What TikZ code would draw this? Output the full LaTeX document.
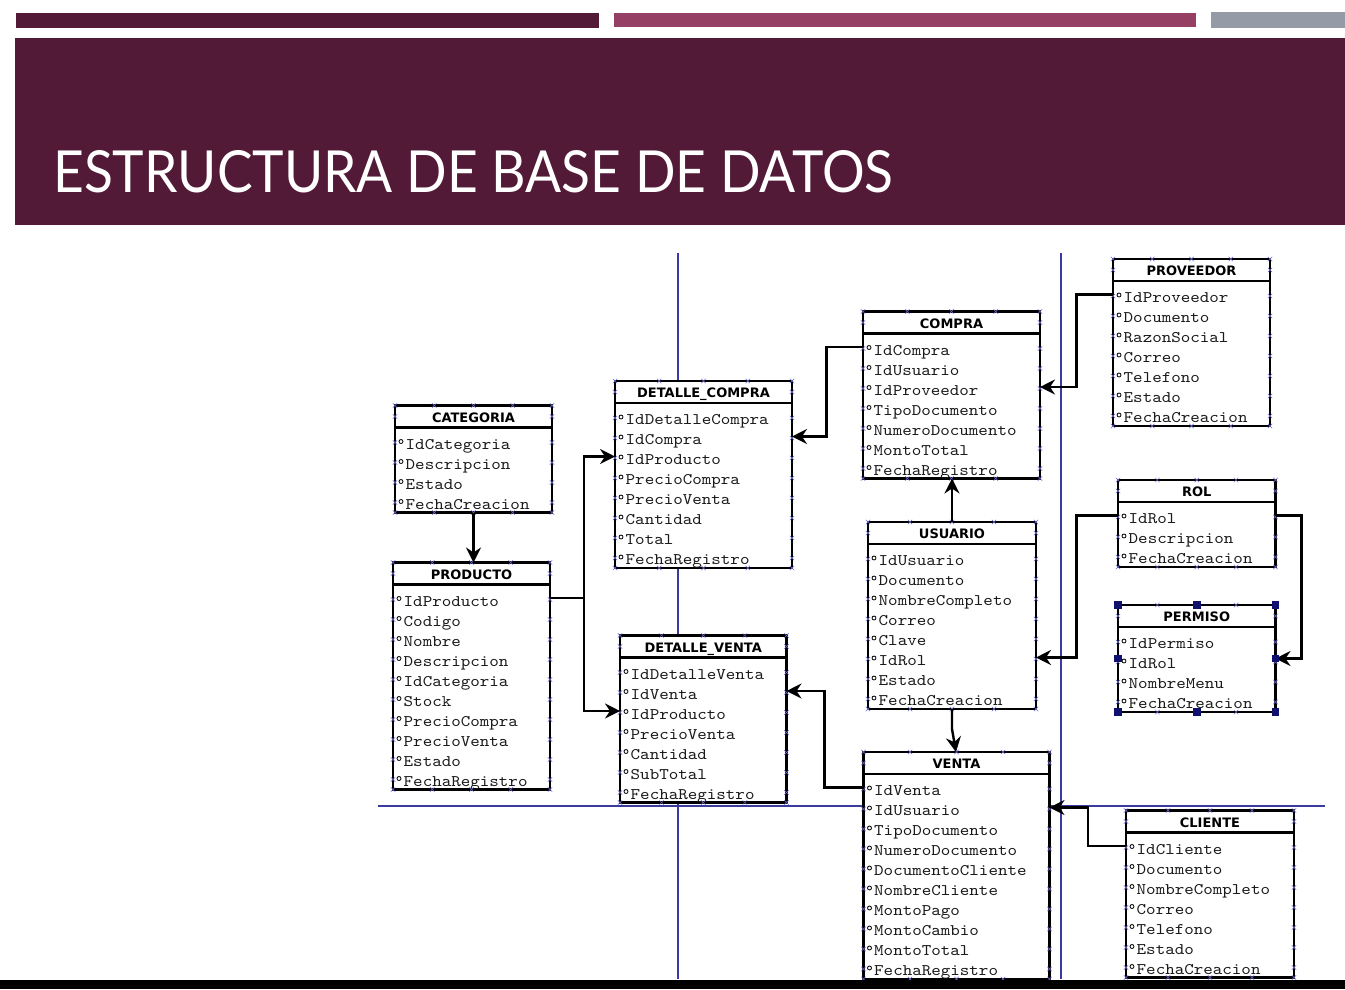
\documentclass[tikz,border=0pt]{standalone}
\usepackage{fontspec}
\usetikzlibrary{arrows.meta}

\newfontfamily\erTitleFont{Lato}
\newfontfamily\erHeadFont{DejaVu Sans}
\newfontfamily\erFieldFont[FakeStretch=1.12]{lmmono10-regular.otf}

\definecolor{plum}{HTML}{521A37}
\definecolor{berry}{HTML}{953F65}
\definecolor{slate}{HTML}{959BA6}
\definecolor{pagerule}{HTML}{3A3AA0}
\definecolor{grip}{HTML}{6A6AD0}
\definecolor{handle}{HTML}{10106E}
\definecolor{fieldink}{HTML}{1A1A1A}

\tikzset{
  erframe/.style={draw=black, fill=white, line width=2.4pt, inner sep=0pt, outer sep=0pt, rectangle},
  erline/.style={draw=black, line width=2.4pt},
  erhead/.style={anchor=base, inner sep=0pt, font=\erHeadFont\bfseries\fontsize{13}{15}\selectfont},
  erfield/.style={anchor=base west, inner sep=0pt, text=fieldink, font=\erFieldFont\fontsize{16.2}{18}\selectfont},
  erdot/.style={draw=black, line width=0.8pt},
  gripmark/.style={draw=grip, line width=0.5pt},
  handlebox/.style={fill=handle, minimum size=7.5pt, inner sep=0pt, outer sep=0pt, rectangle},
  rel/.style={draw=black, line width=2.4pt, line join=miter,
    -{Stealth[length=15pt, width=15pt, inset=5pt]}},
  pageline/.style={draw=pagerule, line width=1.2pt}
}

% small crosses the modelling tool puts along a table border
\newcommand\erGrip[2]{\draw[gripmark] (#1-2.2,#2-2.2) -- (#1+2.2,#2+2.2) (#1-2.2,#2+2.2) -- (#1+2.2,#2-2.2);}

% #1 name, #2 left, #3 right, #4 top, #5 number of fields, #6 title, #7 fields
\newcommand\erTable[7]{%
  \pgfmathsetmacro\erBot{#4+39+20*(#5-1)+8}
  \node[erframe, anchor=north west, minimum width={#3-#2}, minimum height={\erBot-#4}] (#1) at (#2,#4) {};
  \draw[erline] (#2,#4+22) -- (#3,#4+22);
  \node[erhead] (#1-title) at ({(#2+#3)/2},#4+16.5) {#6};
  \foreach \fld [count=\k] in {#7} {
    \pgfmathsetmacro\erY{#4+39+20*(\k-1)}
    \coordinate (#1-r\k) at (#2,\erY-3.5);
    \draw[erdot] (#2+6,\erY-3) circle[radius=2pt];
    \node[erfield] (#1-f\k) at (#2+10.5,\erY+4.5) {\fld};
  }
  \foreach \q in {0,1,2,3,4} {
    \pgfmathsetmacro\gx{#2+(#3-#2)*\q/4}
    \erGrip{\gx}{#4}
    \erGrip{\gx}{\erBot}
  }
  \erGrip{#2}{#4+11}
  \erGrip{#3}{#4+11}
  \foreach \k in {1,...,#5} {
    \pgfmathsetmacro\gy{#4+39+20*(\k-1)-2}
    \erGrip{#2}{\gy}
    \erGrip{#3}{\gy}
  }
}

\begin{document}
\begin{tikzpicture}[x=1pt,y=-1pt]
\useasboundingbox (0,0) rectangle (1345,989);
\fill[white] (0,0) rectangle (1345,989);

% slide header
\fill[plum]  (16,13)   rectangle (599,27.5);
\fill[berry] (614,13)  rectangle (1196,27);
\fill[slate] (1211,12) rectangle (1345,27.5);
\fill[plum]  (15,38)   rectangle (1345,225);
\node[anchor=base west, inner sep=0pt, text=white] (title) at (53,192)
  {\resizebox{840pt}{42pt}{\erTitleFont\fontsize{58}{60}\selectfont ESTRUCTURA DE BASE DE DATOS}};

% page boundaries of the diagram editor
\draw[pageline] (678,253) -- (678,979);
\draw[pageline] (1061,253) -- (1061,979);
\draw[pageline] (378,806) -- (1325,806);

% tables
\erTable{cat}{395}{552}{405.5}{4}{CATEGORIA}{IdCategoria,Descripcion,Estado,FechaCreacion}
\erTable{prod}{393}{550}{562.5}{10}{PRODUCTO}{IdProducto,Codigo,Nombre,Descripcion,IdCategoria,Stock,PrecioCompra,PrecioVenta,Estado,FechaRegistro}
\erTable{dc}{615}{792}{381}{8}{DETALLE\_COMPRA}{IdDetalleCompra,IdCompra,IdProducto,PrecioCompra,PrecioVenta,Cantidad,Total,FechaRegistro}
\erTable{dv}{620}{786.5}{635.5}{7}{DETALLE\_VENTA}{IdDetalleVenta,IdVenta,IdProducto,PrecioVenta,Cantidad,SubTotal,FechaRegistro}
\erTable{com}{863}{1040}{311.5}{7}{COMPRA}{IdCompra,IdUsuario,IdProveedor,TipoDocumento,NumeroDocumento,MontoTotal,FechaRegistro}
\erTable{usu}{868}{1036}{522}{8}{USUARIO}{IdUsuario,Documento,NombreCompleto,Correo,Clave,IdRol,Estado,FechaCreacion}
\erTable{ven}{863.5}{1049.5}{752}{10}{VENTA}{IdVenta,IdUsuario,TipoDocumento,NumeroDocumento,DocumentoCliente,NombreCliente,MontoPago,MontoCambio,MontoTotal,FechaRegistro}
\erTable{prov}{1113}{1270}{259}{7}{PROVEEDOR}{IdProveedor,Documento,RazonSocial,Correo,Telefono,Estado,FechaCreacion}
\erTable{rol}{1118}{1275.5}{480}{3}{ROL}{IdRol,Descripcion,FechaCreacion}
\erTable{perm}{1118}{1275.5}{605}{4}{PERMISO}{IdPermiso,IdRol,NombreMenu,FechaCreacion}
\erTable{cli}{1126}{1294}{810.5}{7}{CLIENTE}{IdCliente,Documento,NombreCompleto,Correo,Telefono,Estado,FechaCreacion}

% relationships
\draw[rel] (cat.south) -- (cat.south |- prod.north);
\draw[rel] (prod.east |- prod-r1) -- ++(34,0) |- (dc-r3);
\draw[rel] (prod.east |- prod-r1) -- ++(34,0) |- (dv-r3);
\draw[rel] (com-r1) -- ++(-36.5,0) |- (dc.east |- dc-r2);
\draw[rel] (prov-r1) -- ++(-36.5,0) |- (com.east |- com-r3);
\draw[rel] (usu.north) -- (usu.north |- com.south);
\draw[rel] (rol-r1) -- ++(-41.5,0) |- (usu.east |- usu-r6);
\draw[rel] (rol.east |- rol-r1) -- ++(26,0) |- (perm.east);
\draw[rel] (usu.south) -- ++(0,20) -- ([xshift=4pt]usu.south |- ven.north);
\draw[rel] (ven-r1) -- ++(-39,0) |- (dv.east |- dv-r2);
\draw[rel] (cli-r1) -- ++(-38,0) |- (ven.east |- ven-r2);

% selection handles on PERMISO
\foreach \a [count=\h] in {north west,north,north east,west,east,south west,south,south east}
  \node[handlebox] (perm-h\h) at (perm.\a) {};

% bottom strip
\fill[black] (0,979.5) rectangle (1345,989);
\end{tikzpicture}
\end{document}
